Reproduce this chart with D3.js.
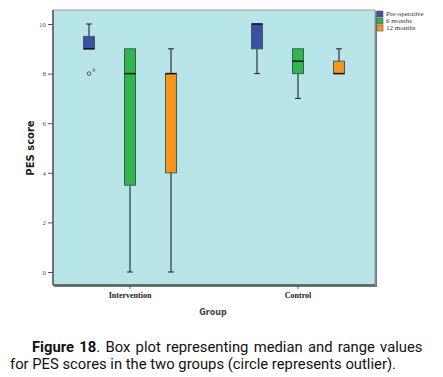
<!DOCTYPE html>
<html>
<head>
<meta charset="utf-8">
<script src="https://cdn.jsdelivr.net/npm/d3@7"></script>
<style>
  body { margin: 0; background: #fff; }
  svg { display: block; }
</style>
</head>
<body>
<script>
// values
const groups = ['Intervention', 'Control']
const periods = ['Pre-operative', '6 months', '12 months']
const periodColors = ['#3b4fa6', '#2eb84b', '#f7951d']
const yTicks = [0, 2, 4, 6, 8, 10]

// [min, q1, median, q3, max] per group, per period
const interventionStats = [
  [9, 9, 9, 9.5, 10],
  [0, 3.5, 8, 9, 9],
  [0, 4, 8, 8, 9]
]
const controlStats = [
  [8, 9, 10, 10, 10],
  [7, 8, 8.5, 9, 9],
  [8, 8, 8, 8.5, 9]
]
// outliers: [group, period, value, case label]
const outliers = [['Intervention', 'Pre-operative', 8, '4']]

const d3 = window.d3
const W = 443
const H = 377
const plot = { left: 53, top: 10, right: 375, bottom: 285 }

const rows = []
groups.forEach((g, gi) => {
  const stats = gi === 0 ? interventionStats : controlStats
  periods.forEach((p, pi) => {
    const s = stats[pi]
    rows.push({ group: g, period: p, color: periodColors[pi], min: s[0], q1: s[1], med: s[2], q3: s[3], max: s[4] })
  })
})

const svg = d3.select('body').append('svg')
  .attr('width', W)
  .attr('height', H)

// group bands are wider than the plot frame, as in the original
const xScale = d3.scaleBand().domain(groups).range([46, 382]).padding(0)
const xSub = d3.scaleBand().domain(periods).range([0, xScale.bandwidth()]).paddingInner(0.732).paddingOuter(0.915)
const yScale = d3.scaleLinear().domain([0, 10]).range([272, 24])

// plot background
svg.append('rect')
  .attr('x', plot.left + 1).attr('y', plot.top + 1)
  .attr('width', plot.right - plot.left + 1).attr('height', plot.bottom - plot.top + 1)
  .attr('fill', '#6f7a7c')
svg.append('rect')
  .attr('x', plot.left).attr('y', plot.top)
  .attr('width', plot.right - plot.left).attr('height', plot.bottom - plot.top)
  .attr('fill', '#b8e5e7')
  .attr('stroke', '#9aa3a5')
  .attr('stroke-width', 1)

// axes
const yAxis = svg.append('g')
  .attr('transform', `translate(${plot.left},0)`)
  .call(d3.axisLeft(yScale).tickValues(yTicks).tickSize(5).tickPadding(2).tickFormat(d3.format('d')))
yAxis.select('.domain').attr('d', `M0,${plot.top}V${plot.bottom}`).attr('stroke', '#555').attr('stroke-width', 1.5)
yAxis.selectAll('.tick line').attr('stroke', '#555')
yAxis.selectAll('.tick text')
  .attr('fill', '#555')
  .style('font-family', '"Liberation Serif", serif')
  .style('font-size', '7px')

const xAxis = svg.append('g')
  .attr('transform', `translate(0,${plot.bottom})`)
  .call(d3.axisBottom(xScale).tickSize(4).tickPadding(3))
xAxis.select('.domain').attr('d', `M${plot.left},0H${plot.right}`).attr('stroke', '#555').attr('stroke-width', 1.5)
xAxis.selectAll('.tick line').attr('stroke', '#555')
xAxis.selectAll('.tick text')
  .attr('fill', '#222')
  .style('font-family', '"Liberation Serif", serif')
  .style('font-weight', 'bold')
  .style('font-size', '8px')

// boxes
const boxW = xSub.bandwidth()
const box = svg.append('g').selectAll('g')
  .data(rows)
  .join('g')
  .attr('transform', (d) => `translate(${xScale(d.group) + xSub(d.period)},0)`)

box.append('line')
  .attr('x1', boxW / 2).attr('x2', boxW / 2)
  .attr('y1', (d) => yScale(d.max)).attr('y2', (d) => yScale(d.q3))
  .attr('stroke', '#46585a').attr('stroke-width', 1.5)
box.append('line')
  .attr('x1', boxW / 2).attr('x2', boxW / 2)
  .attr('y1', (d) => yScale(d.q1)).attr('y2', (d) => yScale(d.min))
  .attr('stroke', '#46585a').attr('stroke-width', 1.5)
box.filter((d) => d.max > d.q3).append('line')
  .attr('x1', boxW / 2 - 3).attr('x2', boxW / 2 + 3)
  .attr('y1', (d) => yScale(d.max)).attr('y2', (d) => yScale(d.max))
  .attr('stroke', '#222').attr('stroke-width', 1)
box.filter((d) => d.min < d.q1).append('line')
  .attr('x1', boxW / 2 - 3).attr('x2', boxW / 2 + 3)
  .attr('y1', (d) => yScale(d.min)).attr('y2', (d) => yScale(d.min))
  .attr('stroke', '#222').attr('stroke-width', 1)
box.append('rect')
  .attr('x', 0).attr('width', boxW)
  .attr('y', (d) => yScale(d.q3))
  .attr('height', (d) => yScale(d.q1) - yScale(d.q3))
  .attr('fill', (d) => d.color)
  .attr('stroke', '#46585a').attr('stroke-width', 1)
box.append('line')
  .attr('x1', 0).attr('x2', boxW)
  .attr('y1', (d) => yScale(d.med)).attr('y2', (d) => yScale(d.med))
  .attr('stroke', '#111').attr('stroke-width', 1.5)

// outliers
const out = svg.append('g').selectAll('g')
  .data(outliers)
  .join('g')
  .attr('transform', (d) => `translate(${xScale(d[0]) + xSub(d[1]) + boxW / 2},${yScale(d[2])})`)
out.append('circle')
  .attr('r', 1.8)
  .attr('fill', 'none')
  .attr('stroke', '#444')
  .attr('stroke-width', 0.9)
out.append('text')
  .attr('x', 3).attr('y', -2)
  .attr('fill', '#444')
  .style('font-family', '"Liberation Serif", serif')
  .style('font-size', '6px')
  .text((d) => d[3])

// legend
const legend = svg.append('g')
  .attr('transform', 'translate(377,11)')
  .selectAll('g')
  .data(periods)
  .join('g')
  .attr('transform', (d, i) => `translate(0,${i * 7})`)
legend.append('rect')
  .attr('width', 6).attr('height', 6)
  .attr('fill', (d, i) => periodColors[i])
  .attr('stroke', '#555').attr('stroke-width', 0.6)
legend.append('text')
  .attr('x', 9).attr('y', 5)
  .attr('fill', '#333')
  .style('font-family', '"Liberation Serif", serif')
  .style('font-size', '7px')
  .text((d) => d)

// axis titles
svg.append('text')
  .attr('transform', 'translate(34,148) rotate(-90)')
  .style('text-anchor', 'middle')
  .style('font-family', '"DejaVu Sans", sans-serif')
  .style('font-weight', 'bold')
  .style('font-size', '10px')
  .attr('fill', '#222')
  .text('PES score')

svg.append('text')
  .attr('x', 213).attr('y', 315)
  .style('text-anchor', 'middle')
  .style('font-family', '"DejaVu Sans", sans-serif')
  .style('font-weight', 'bold')
  .style('font-size', '8px')
  .attr('fill', '#444')
  .text('Group')

// caption
const cap = svg.append('text')
  .style('font-family', 'Roboto, sans-serif')
  .style('font-size', '14.8px')
  .attr('fill', '#111')
const l1 = cap.append('tspan').attr('x', 32).attr('y', 352).style('word-spacing', '1.6px')
l1.append('tspan').style('font-weight', 'bold').text('Figure 18')
l1.append('tspan').text('. Box plot representing median and range values')
cap.append('tspan').attr('x', 10).attr('y', 369)
  .text('for PES scores in the two groups (circle represents outlier).')
</script>
</body>
</html>
